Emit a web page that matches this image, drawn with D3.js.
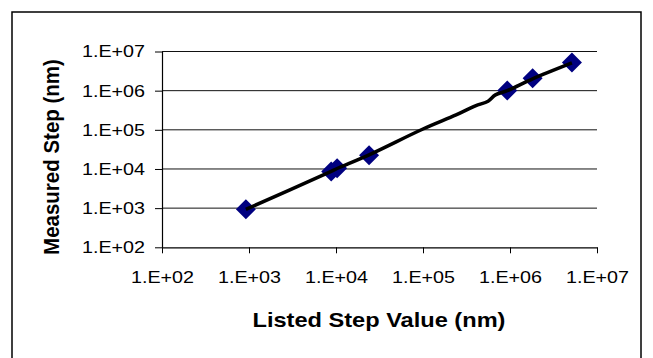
<!DOCTYPE html>
<html><head><meta charset="utf-8">
<script src="https://cdn.jsdelivr.net/npm/d3@7"></script>
<style>html,body{margin:0;padding:0;background:#fff}svg{display:block}</style>
</head><body><svg id="c" width="653" height="358"></svg>
<script>
// Data
const listed   = [920, 8800, 10300, 24000, 930000, 1820000, 5150000];
const measured = [930, 8600, 10500, 22500, 1010000, 2080000, 5200000];
const lineX = [920, 8800, 10300, 24000, 100000, 240000, 400000, 560000, 680000, 930000, 1820000, 5150000];
const lineY = [930, 8700, 10300, 23000, 105000, 240000, 410000, 540000, 780000, 1000000, 2000000, 5100000];
const tickVals = [1e2, 1e3, 1e4, 1e5, 1e6, 1e7];
const tickLabels = ["1.E+02", "1.E+03", "1.E+04", "1.E+05", "1.E+06", "1.E+07"];
const xTitle = "Listed Step Value (nm)";
const yTitle = "Measured Step (nm)";

const svg = d3.select("#c");
const font = "'Liberation Sans', Arial, sans-serif";
const SX = 1.16;
const L = 162, R = 597, T = 51.5, B = 247.3;
const x = d3.scaleLog().domain([1e2, 1e7]).range([L, R]);
const y = d3.scaleLog().domain([1e2, 1e7]).range([B, T]);

// outer border
svg.append("rect").attr("x", 12).attr("y", 12).attr("width", 629).attr("height", 360)
  .attr("fill", "none").attr("stroke", "#000").attr("stroke-width", 1.5);

// gridlines
svg.append("g").selectAll("line").data(tickVals.slice(1)).join("line")
  .attr("x1", L).attr("x2", R).attr("y1", d => y(d)).attr("y2", d => y(d))
  .attr("stroke", "#111").attr("stroke-width", 1);

// axes
const yAxis = d3.axisLeft(y).tickValues(tickVals).tickFormat((d, i) => tickLabels[i]).tickSizeInner(7).tickSizeOuter(0).tickPadding(10);
const gy = svg.append("g").attr("transform", `translate(${L},0)`).call(yAxis);
const xAxis = d3.axisBottom(x).tickValues(tickVals).tickFormat((d, i) => tickLabels[i]).tickSizeInner(6).tickSizeOuter(0).tickPadding(18);
const gx = svg.append("g").attr("transform", `translate(0,${B})`).call(xAxis);
[gx, gy].forEach(g => {
  g.select(".domain").attr("stroke", "#000").attr("stroke-width", 1.2);
  g.selectAll(".tick line").attr("stroke", "#000").attr("stroke-width", 1);
  g.selectAll("text").attr("font-family", font).attr("font-size", 17).attr("fill", "#000");
});
gy.selectAll("text").attr("x", -17 / SX).attr("transform", `scale(${SX},1)`);
gx.selectAll("text").attr("transform", `scale(${SX},1)`).attr("x", 0);

// line
const lineGen = d3.line().x(d => x(d[0])).y(d => y(d[1])).curve(d3.curveCatmullRom);
const lineData = lineX.map((v, i) => [v, lineY[i]]);

// markers
const s = 10;
svg.append("g").selectAll("path").data(listed.map((v, i) => [v, measured[i]])).join("path")
  .attr("d", d => `M${x(d[0])},${y(d[1]) - s}L${x(d[0]) + s},${y(d[1])}L${x(d[0])},${y(d[1]) + s}L${x(d[0]) - s},${y(d[1])}Z`)
  .attr("fill", "#000080");

svg.append("path").datum(lineData).attr("d", lineGen)
  .attr("fill", "none").attr("stroke", "#000").attr("stroke-width", 3.5);

// titles
svg.append("text").attr("transform", `translate(379,327) scale(1.18,1)`).attr("text-anchor", "middle")
  .attr("font-family", font).attr("font-weight", "bold").attr("font-size", 20).text(xTitle);
svg.append("text").attr("transform", "translate(59,157) scale(1.1,1) rotate(-90)").attr("text-anchor", "middle")
  .attr("font-family", font).attr("font-weight", "bold").attr("font-size", 20.5).text(yTitle);
</script></body></html>
